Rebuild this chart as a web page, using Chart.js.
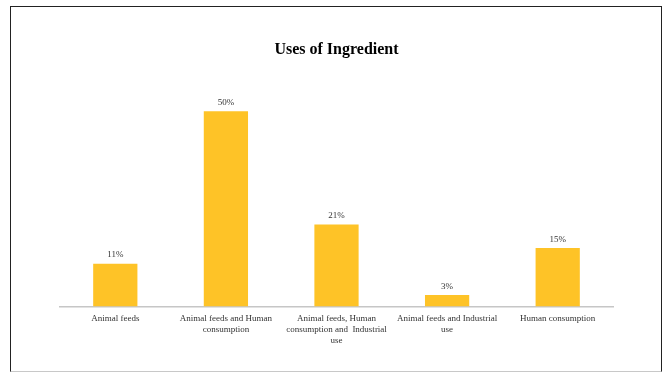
<!DOCTYPE html>
<html>
<head>
<meta charset="utf-8">
<script src="https://cdn.jsdelivr.net/npm/chart.js"></script>
<style>
  body { margin: 0; background: #fff; }
  .frame {
    position: absolute; left: 10px; top: 6px; width: 650px; height: 364px;
    border-left: 1.5px solid #222; border-top: 1.5px solid #222;
    border-right: 1.5px solid #222; border-bottom: 1px solid #c8c8c8;
  }
  .wrap { position: absolute; left: 0; top: 0; width: 667px; height: 372px; }
</style>
</head>
<body>
<div class="frame"></div>
<div class="wrap"><canvas id="chart"></canvas></div>
<script>
const categories = [
  "Animal feeds",
  ["Animal feeds and Human", "consumption"],
  ["Animal feeds, Human", "consumption and  Industrial", "use"],
  ["Animal feeds and Industrial", "use"],
  "Human consumption"
];
const shares = [11, 50, 21, 3, 15];

const serif = "'Liberation Serif', 'Times New Roman', serif";

// percent labels over each bar
const barLabels = {
  id: "barLabels",
  afterDatasetsDraw(chart) {
    const ctx = chart.ctx;
    const meta = chart.getDatasetMeta(0);
    ctx.save();
    ctx.font = "9px " + serif;
    ctx.fillStyle = "#333";
    ctx.textAlign = "center";
    ctx.textBaseline = "bottom";
    meta.data.forEach((bar, i) => {
      ctx.fillText(shares[i] + "%", bar.x, bar.y - 4);
    });
    ctx.restore();
  }
};

const chart = document.getElementById("chart");

new Chart(chart, {
  type: "bar",
  data: {
    labels: categories,
    datasets: [{
      data: shares,
      backgroundColor: "#FEC327",
      barPercentage: 0.4,
      categoryPercentage: 1
    }]
  },
  options: {
    responsive: true,
    maintainAspectRatio: false,
    animation: false,
    layout: { padding: { left: 60, right: 54, top: 0, bottom: 19 } },
    plugins: {
      legend: { display: false },
      tooltip: { enabled: false },
      title: {
        display: true,
        text: "Uses of Ingredient",
        color: "#000",
        font: { family: serif, size: 16, weight: "bold" },
        padding: { top: 40, bottom: 13 }
      }
    },
    scales: {
      y: { display: false, min: 0, max: 60 },
      x: {
        grid: { display: false, drawTicks: false },
        border: { display: true, color: "#c6c6c6", width: 1.5 },
        ticks: {
          color: "#333",
          font: { family: serif, size: 9 },
          padding: 7,
          maxRotation: 0,
          autoSkip: false
        }
      }
    }
  },
  plugins: [barLabels]
});
</script>
</body>
</html>
